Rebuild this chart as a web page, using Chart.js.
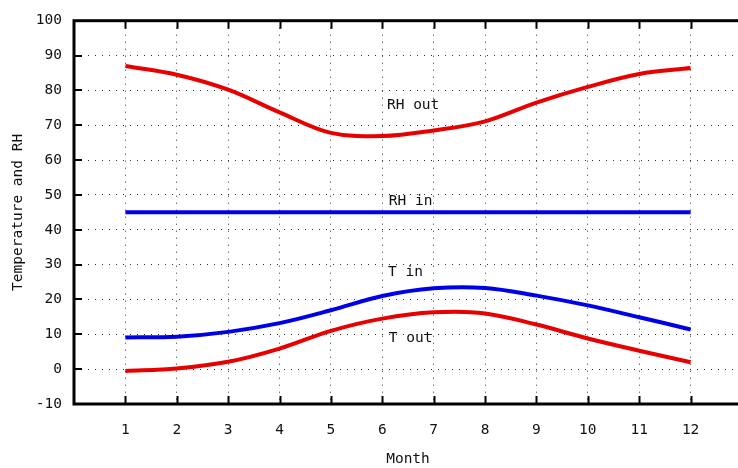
<!DOCTYPE html>
<html>
<head>
<meta charset="utf-8">
<script src="https://cdn.jsdelivr.net/npm/chart.js@4.4.0/dist/chart.umd.min.js"></script>
<style>
    html, body { margin: 0; padding: 0; background: #fff; overflow: hidden; }
    #wrap { position: relative; width: 760px; height: 468px; }
</style>
</head>
<body>
<div id="wrap"><canvas id="chart" width="760" height="468"></canvas></div>
<script>
// Données
const months = [1, 2, 3, 4, 5, 6, 7, 8, 9, 10, 11, 12];
const rhOut = [87, 84.5, 80.2, 73.7, 67.8, 66.9, 68.5, 71.1, 76.5, 81, 84.7, 86.4];
const rhIn = [45, 45, 45, 45, 45, 45, 45, 45, 45, 45, 45, 45];
const tIn = [9.1, 9.3, 10.7, 13.2, 16.9, 21, 23.2, 23.3, 21.1, 18.3, 14.9, 11.4];
const tOut = [-0.5, 0.2, 2.1, 5.9, 11, 14.5, 16.3, 16, 12.8, 8.8, 5.3, 2];

const curveNames = ['RH out', 'RH in', 'T in', 'T out'];
const curveNameX = [6.6, 6.55, 6.45, 6.55];
const curveNameY = [75.7, 48.3, 27.7, 8.9];

const FONT = { family: '"DejaVu Sans Mono", "Liberation Mono", monospace', size: 14.5 };
const RED = '#e80000';
const BLUE = '#0000e8';

const toPoints = (ys) => months.map((m, i) => ({ x: m, y: ys[i] }));

const series = (data, color) => ({
    data: toPoints(data),
    borderColor: color,
    borderWidth: 4,
    pointRadius: 0,
    tension: 0.35,
    fill: false,
});

// Cadre, graduations et étiquettes des courbes
const framePlugin = {
    id: 'frame',
    afterDatasetsDraw(chart) {
        const { ctx, chartArea: a, scales } = chart;
        const x = scales.x, y = scales.y;
        ctx.save();
        ctx.strokeStyle = '#000';
        ctx.lineWidth = 3;
        ctx.strokeRect(a.left, a.top, a.right - a.left, a.bottom - a.top);

        ctx.lineWidth = 2;
        ctx.beginPath();
        months.forEach((m) => {
            const px = Math.round(x.getPixelForValue(m)) + 0.5;
            ctx.moveTo(px, a.bottom);
            ctx.lineTo(px, a.bottom - 8);
            ctx.moveTo(px, a.top);
            ctx.lineTo(px, a.top + 8);
        });
        y.ticks.forEach((t) => {
            const py = Math.round(y.getPixelForValue(t.value));
            ctx.moveTo(a.left, py);
            ctx.lineTo(a.left + 8, py);
        });
        ctx.stroke();

        ctx.fillStyle = '#111';
        ctx.font = `${FONT.size}px ${FONT.family}`;
        ctx.textAlign = 'center';
        ctx.textBaseline = 'middle';
        curveNames.forEach((name, i) => {
            ctx.fillText(name, x.getPixelForValue(curveNameX[i]), y.getPixelForValue(curveNameY[i]));
        });
        ctx.restore();
    }
};

const gridColor = (edgeA, edgeB) => (c) =>
    (c.tick && (c.tick.value === edgeA || c.tick.value === edgeB)) ? 'rgba(0,0,0,0)' : '#333';

new Chart(document.getElementById('chart').getContext('2d'), {
    type: 'line',
    data: {
        datasets: [
            series(rhOut, RED),
            series(rhIn, BLUE),
            series(tIn, BLUE),
            series(tOut, RED),
        ]
    },
    options: {
        responsive: false,
        animation: false,
        devicePixelRatio: 1,
        layout: { padding: { top: 19, right: 13, left: 0, bottom: 0 } },
        plugins: { legend: { display: false }, tooltip: { enabled: false } },
        scales: {
            x: {
                type: 'linear',
                min: 0,
                max: 13,
                afterFit: (s) => { s.height = 64; },
                ticks: {
                    stepSize: 1,
                    padding: 18,
                    color: '#111',
                    font: FONT,
                    maxRotation: 0,
                    autoSkip: false,
                    callback: (v) => (v >= 1 && v <= 12 ? String(v) : ''),
                },
                grid: { color: gridColor(0, 13), lineWidth: 1, drawTicks: false },
                border: { display: false, dash: [1, 6] },
                title: { display: true, text: 'Month', color: '#111', font: FONT, padding: { top: 0, bottom: 0 } },
            },
            y: {
                min: -10,
                max: 100,
                afterFit: (s) => { s.width = 74; },
                ticks: { stepSize: 10, padding: 12, color: '#111', font: FONT },
                grid: { color: gridColor(-10, 100), lineWidth: 1, drawTicks: false },
                border: { display: false, dash: [1, 6] },
                title: { display: true, text: 'Temperature and RH', color: '#111', font: FONT, padding: { top: 10, bottom: 0 } },
            }
        }
    },
    plugins: [framePlugin]
});
</script>
</body>
</html>
